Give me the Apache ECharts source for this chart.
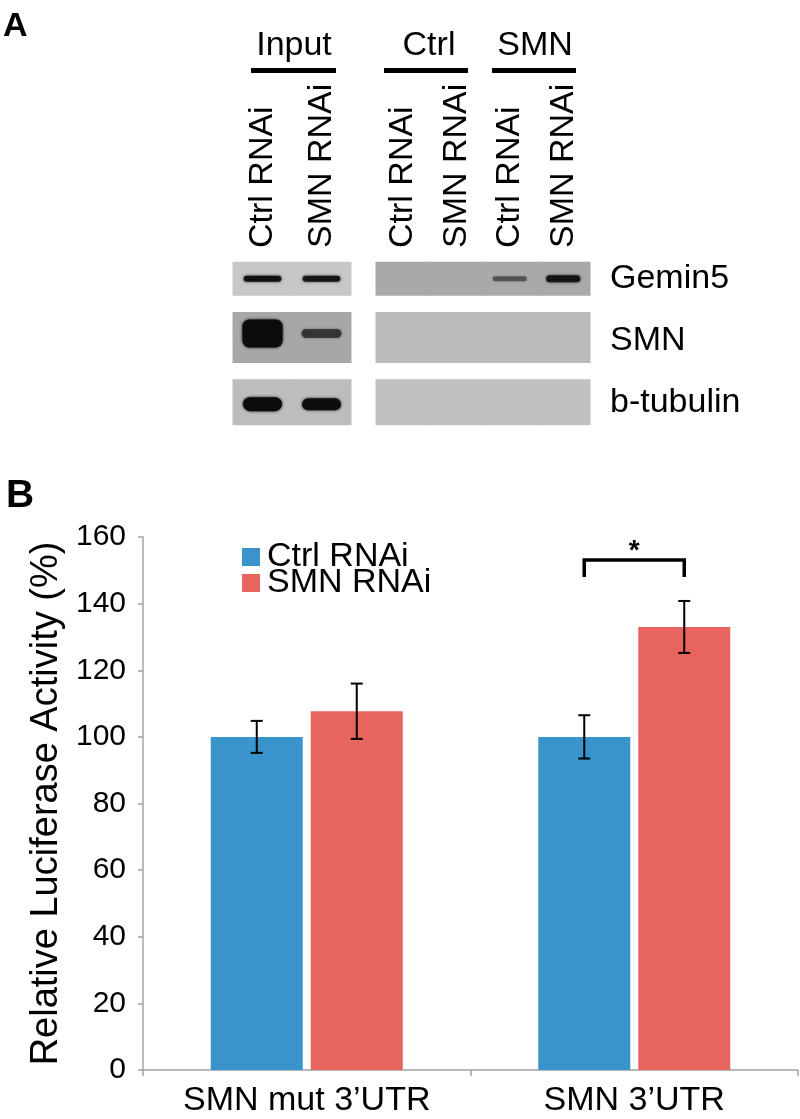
<!DOCTYPE html>
<html>
<head>
<meta charset="utf-8">
<script src="https://cdn.jsdelivr.net/npm/echarts@6/dist/echarts.min.js"></script>
<style>
html,body{margin:0;padding:0;background:#fff;}
#chart{width:800px;height:1119px;}
</style>
</head>
<body>
<div id="chart"></div>
<script>
// ================= Panel A data (western blot) =================
const proteins = ['Gemin5', 'SMN', 'b-tubulin'];
const inputLanes = ['Ctrl RNAi', 'SMN RNAi'];
const ipLanes = ['Ctrl RNAi', 'SMN RNAi', 'Ctrl RNAi', 'SMN RNAi'];
const groupHeaders = ['Input', 'Ctrl', 'SMN'];
// band intensity per lane (0 = no band, 1 = saturated)
const inputGemin5 = [0.9, 0.85];
const inputSMN = [1.0, 0.6];
const inputTubulin = [1.0, 0.95];
const ipGemin5 = [0, 0, 0.45, 0.85];
const ipSMN = [0, 0, 0, 0];
const ipTubulin = [0, 0, 0, 0];

// ================= Panel B data (luciferase) =================
const categories = ['SMN mut 3\u2019UTR', 'SMN 3\u2019UTR'];
const seriesNames = ['Ctrl RNAi', 'SMN RNAi'];
const ctrlValues = [100, 100];
const smnValues = [107.7, 133];
const ctrlErrors = [4.8, 6.5];
const smnErrors = [8.3, 7.8];
const yTicks = [0, 20, 40, 60, 80, 100, 120, 140, 160];
// [category index, bracket top, leg bottom, star position, label]
const significance = [[1, 153.1, 148, 155.8, '*']];

// ================= styles =================
const FONT = "'Liberation Sans', Arial, Helvetica, sans-serif";
const BLUE = '#3A94CC';
const RED = '#E8645E';
const AXIS_GRAY = '#A3A3A3';
const BAR_WIDTH = 92;
const BAR_GAP_PX = 8;
const BAR_OFFSET = (BAR_WIDTH + BAR_GAP_PX) / 2;
const ERR_CAP = 12;

// blot styling (sizes/colours of the rendered gel panels)
const panelHeights = [34, 51, 46];
const panelShift = [0, -3, 0];
const bandShift = [0, -7, 2];
const inputPanelColors = ['#c7c7c7', '#a7a7a7', '#bdbdbd'];
const ipPanelColors = ['#a9a9a9', '#bbbbbb', '#c1c1c1'];
const inputBandH = [[6, 6], [28, 9], [14, 12]];
const ipBandH = [[0, 0, 5, 7], [0, 0, 0, 0], [0, 0, 0, 0]];
const bandWidthFrac = [0.64, 0.68, 0.66];

function buildBlotData(rows) {
  const out = [];
  rows.forEach((arr, r) => arr.forEach((v, l) => out.push([l, r, v])));
  return out;
}
const inputBlotData = buildBlotData([inputGemin5, inputSMN, inputTubulin]);
const ipBlotData = buildBlotData([ipGemin5, ipSMN, ipTubulin]);

function blotRenderer(panelColors, bandH) {
  return function (params, api) {
    const lane = api.value(0), row = api.value(1), inten = api.value(2);
    const c = api.coord([lane, row]);
    const laneW = api.size([1, 0])[0];
    const ph = panelHeights[row];
    const cy = c[1] + panelShift[row];
    const children = [{
      type: 'rect',
      shape: { x: c[0] - laneW / 2 - 0.5, y: cy - ph / 2, width: laneW + 1, height: ph },
      style: { fill: panelColors[row] }
    }];
    if (inten > 0) {
      const bh = bandH[row][lane];
      const bw = laneW * bandWidthFrac[row];
      const by = c[1] + bandShift[row];
      const col = 'rgba(12,12,12,' + inten + ')';
      children.push({
        type: 'rect',
        shape: { x: c[0] - bw / 2, y: by - bh / 2, width: bw, height: bh, r: Math.min(bh / 2, 7) },
        style: { fill: col, shadowBlur: 3, shadowColor: col }
      });
    }
    return { type: 'group', children: children };
  };
}

function errorRenderer(sign) {
  return function (params, api) {
    const cat = api.value(0);
    const lo = api.coord([cat, api.value(1)]);
    const hi = api.coord([cat, api.value(2)]);
    const x = lo[0] + sign * BAR_OFFSET;
    const h = ERR_CAP / 2;
    const st = { stroke: '#000', lineWidth: 2 };
    return {
      type: 'group', children: [
        { type: 'line', shape: { x1: x, y1: hi[1], x2: x, y2: lo[1] }, style: st },
        { type: 'line', shape: { x1: x - h, y1: hi[1], x2: x + h, y2: hi[1] }, style: st },
        { type: 'line', shape: { x1: x - h, y1: lo[1], x2: x + h, y2: lo[1] }, style: st }
      ]
    };
  };
}

function bracketRenderer(params, api) {
  const cat = api.value(0);
  const top = api.coord([cat, api.value(1)]);
  const bot = api.coord([cat, api.value(2)]);
  const star = api.coord([cat, api.value(3)]);
  const xa = top[0] - BAR_OFFSET, xb = top[0] + BAR_OFFSET;
  return {
    type: 'group', children: [
      { type: 'polyline', shape: { points: [[xa, bot[1]], [xa, top[1]], [xb, top[1]], [xb, bot[1]]] },
        style: { stroke: '#000', lineWidth: 3.5, fill: null } },
      { type: 'text', x: top[0], y: star[1],
        style: { text: String(api.value(4)), fill: '#000', font: 'bold 28px ' + FONT, align: 'center', verticalAlign: 'middle' } }
    ]
  };
}

const chart = echarts.init(document.getElementById('chart'), null, { renderer: 'canvas' });

const laneLabel = { rotate: -90, interval: 0, margin: 0, fontSize: 34, color: '#000', fontFamily: FONT };

const option = {
  backgroundColor: '#fff',
  animation: false,
  textStyle: { fontFamily: FONT },
  grid: [
    { left: 233, width: 118, top: 248, height: 185 },
    { left: 376, width: 214, top: 248, height: 185 },
    { left: 143, right: 2, top: 537, bottom: 49 }
  ],
  xAxis: [
    { gridIndex: 0, type: 'category', data: inputLanes, position: 'top',
      axisLine: { show: false }, axisTick: { show: false }, splitLine: { show: false },
      axisLabel: laneLabel },
    { gridIndex: 1, type: 'category', data: ipLanes, position: 'top',
      axisLine: { show: false }, axisTick: { show: false }, splitLine: { show: false },
      axisLabel: laneLabel },
    { gridIndex: 2, type: 'category', data: categories,
      axisLine: { show: true, lineStyle: { color: AXIS_GRAY, width: 1.5 } },
      axisTick: { show: true, length: 6, lineStyle: { color: AXIS_GRAY, width: 1.5 } },
      splitLine: { show: false },
      axisLabel: { margin: 14, fontSize: 34, color: '#000', fontFamily: FONT, interval: 0 } }
  ],
  yAxis: [
    { gridIndex: 0, type: 'category', data: proteins, inverse: true, show: false },
    { gridIndex: 1, type: 'category', data: proteins, inverse: true, position: 'right',
      axisLine: { show: false }, axisTick: { show: false }, splitLine: { show: false },
      axisLabel: { margin: 20, fontSize: 34, color: '#000', fontFamily: FONT, interval: 0 } },
    { gridIndex: 2, type: 'value', min: yTicks[0], max: yTicks[yTicks.length - 1],
      interval: yTicks[1] - yTicks[0],
      name: 'Relative Luciferase Activity (%)', nameLocation: 'middle', nameGap: 74,
      nameTextStyle: { fontSize: 38, color: '#000', fontFamily: FONT },
      axisLine: { show: true, lineStyle: { color: AXIS_GRAY, width: 1.5 } },
      axisTick: { show: true, length: 5, lineStyle: { color: AXIS_GRAY, width: 1.5 } },
      splitLine: { show: false },
      axisLabel: { margin: 17, fontSize: 30, color: '#000', fontFamily: FONT } }
  ],
  legend: [
    { data: [seriesNames[0]], left: 237, top: 535, orient: 'vertical', icon: 'rect',
      itemWidth: 18, itemHeight: 18, selectedMode: false,
      textStyle: { fontSize: 34, color: '#000', fontFamily: FONT, padding: [0, 0, 0, 2] } },
    { data: [seriesNames[1]], left: 237, top: 561, orient: 'vertical', icon: 'rect',
      itemWidth: 18, itemHeight: 18, selectedMode: false,
      textStyle: { fontSize: 34, color: '#000', fontFamily: FONT, padding: [0, 0, 0, 2] } }
  ],
  graphic: [
    { type: 'text', left: 3, top: 10, style: { text: 'A', font: 'bold 34px ' + FONT, fill: '#000' } },
    { type: 'text', left: 6, top: 477, style: { text: 'B', font: 'bold 39px ' + FONT, fill: '#000' } },
    { type: 'text', x: 294, y: 46, style: { text: groupHeaders[0], font: '34px ' + FONT, fill: '#000', align: 'center', verticalAlign: 'middle' } },
    { type: 'text', x: 429, y: 46, style: { text: groupHeaders[1], font: '34px ' + FONT, fill: '#000', align: 'center', verticalAlign: 'middle' } },
    { type: 'text', x: 535, y: 46, style: { text: groupHeaders[2], font: '34px ' + FONT, fill: '#000', align: 'center', verticalAlign: 'middle' } },
    { type: 'rect', shape: { x: 251, y: 68, width: 85, height: 5 }, style: { fill: '#000' } },
    { type: 'rect', shape: { x: 384, y: 68, width: 84, height: 5 }, style: { fill: '#000' } },
    { type: 'rect', shape: { x: 492, y: 68, width: 84, height: 5 }, style: { fill: '#000' } }
  ],
  series: [
    { type: 'custom', name: 'blot-input', xAxisIndex: 0, yAxisIndex: 0,
      renderItem: blotRenderer(inputPanelColors, inputBandH), data: inputBlotData, silent: true },
    { type: 'custom', name: 'blot-ip', xAxisIndex: 1, yAxisIndex: 1,
      renderItem: blotRenderer(ipPanelColors, ipBandH), data: ipBlotData, silent: true },
    { type: 'bar', name: seriesNames[0], xAxisIndex: 2, yAxisIndex: 2, data: ctrlValues,
      barWidth: BAR_WIDTH, barGap: (BAR_GAP_PX / BAR_WIDTH * 100) + '%',
      itemStyle: { color: BLUE } },
    { type: 'bar', name: seriesNames[1], xAxisIndex: 2, yAxisIndex: 2, data: smnValues,
      barWidth: BAR_WIDTH, barGap: (BAR_GAP_PX / BAR_WIDTH * 100) + '%',
      itemStyle: { color: RED } },
    { type: 'custom', name: 'err-ctrl', xAxisIndex: 2, yAxisIndex: 2, z: 5,
      renderItem: errorRenderer(-1), encode: { x: 0, y: [1, 2] },
      data: ctrlValues.map((v, i) => [i, v - ctrlErrors[i], v + ctrlErrors[i]]) },
    { type: 'custom', name: 'err-smn', xAxisIndex: 2, yAxisIndex: 2, z: 5,
      renderItem: errorRenderer(1), encode: { x: 0, y: [1, 2] },
      data: smnValues.map((v, i) => [i, v - smnErrors[i], v + smnErrors[i]]) },
    { type: 'custom', name: 'significance', xAxisIndex: 2, yAxisIndex: 2, z: 5,
      renderItem: bracketRenderer, encode: { x: 0, y: [1, 2, 3] },
      data: significance }
  ]
};
chart.setOption(option);
</script>
</body>
</html>
